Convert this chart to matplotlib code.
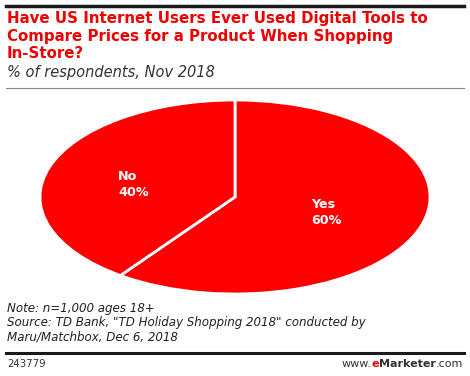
import matplotlib
matplotlib.use("Agg")
import matplotlib.pyplot as plt

categories = ["Yes", "No"]
values = [60, 40]
title = "Have US Internet Users Ever Used Digital Tools to\nCompare Prices for a Product When Shopping\nIn-Store?"
subtitle = "% of respondents, Nov 2018"
note = 'Note: n=1,000 ages 18+\nSource: TD Bank, "TD Holiday Shopping 2018" conducted by\nMaru/Matchbox, Dec 6, 2018'
chart_id = "243779"

W, H = 470, 376
fig = plt.figure(figsize=(W / 100, H / 100), dpi=100)
fig.patch.set_facecolor("white")

def fx(px):
    return px / W

def fy(py):
    return 1 - py / H

# Top thick line
fig.add_artist(plt.Line2D([fx(6), fx(464)], [fy(6), fy(6)], color="#1a1a1a", lw=2.5))
fig.text(fx(7), fy(11), title, color="#ee0000", fontsize=10.8, fontweight="bold",
         va="top", ha="left", linespacing=1.22, family="DejaVu Sans")
fig.text(fx(7), fy(65), subtitle, color="#333333", fontsize=10.5, style="italic",
         va="top", ha="left", family="DejaVu Sans")
fig.add_artist(plt.Line2D([fx(6), fx(464)], [fy(88), fy(88)], color="#888888", lw=0.8))

# Pie as ellipse
ax = fig.add_axes([fx(40), fy(294), fx(430) - fx(40), fy(100) - fy(294)])
wedges, _ = ax.pie(values, startangle=90, counterclock=False, colors=["#ff0000", "#ff0000"],
                   wedgeprops=dict(edgecolor="white", linewidth=2.0))
ax.set_aspect("auto")
ax.set_xlim(-1.0, 1.0)
ax.set_ylim(-1.0, 1.0)
ax.axis("off")

label_pos = {"Yes": (0.39, -0.16), "No": (-0.6, 0.13)}
total = sum(values)
for cat, v in zip(categories, values):
    x, y = label_pos[cat]
    ax.text(x, y, f"{cat}\n{v / total * 100:.0f}%", color="white", fontsize=9.2,
            fontweight="bold", ha="left", va="center", linespacing=1.3)

fig.text(fx(7), fy(302), note, color="#222222", fontsize=8.6, style="italic",
         va="top", ha="left", linespacing=1.12)
fig.add_artist(plt.Line2D([fx(6), fx(464)], [fy(353), fy(353)], color="#1a1a1a", lw=2.2))
fig.text(fx(7), fy(364), chart_id, color="#333333", fontsize=7.3, va="center", ha="left")

# eMarketer logo text pieces aligned right
r = fig.canvas.get_renderer()
fs = 8.0
t3 = fig.text(fx(463), fy(364), ".com", color="#333333", fontsize=fs, va="center", ha="right")
bb = t3.get_window_extent(r)
t2 = fig.text(bb.x0 / W, fy(364), "Marketer", color="#333333", fontsize=fs,
              fontweight="bold", va="center", ha="right")
bb = t2.get_window_extent(r)
t1 = fig.text(bb.x0 / W, fy(364), "e", color="#ee0000", fontsize=fs,
              fontweight="bold", va="center", ha="right")
bb = t1.get_window_extent(r)
fig.text(bb.x0 / W, fy(364), "www.", color="#333333", fontsize=fs, va="center", ha="right")

fig.savefig("out.png", dpi=100, facecolor="white")
